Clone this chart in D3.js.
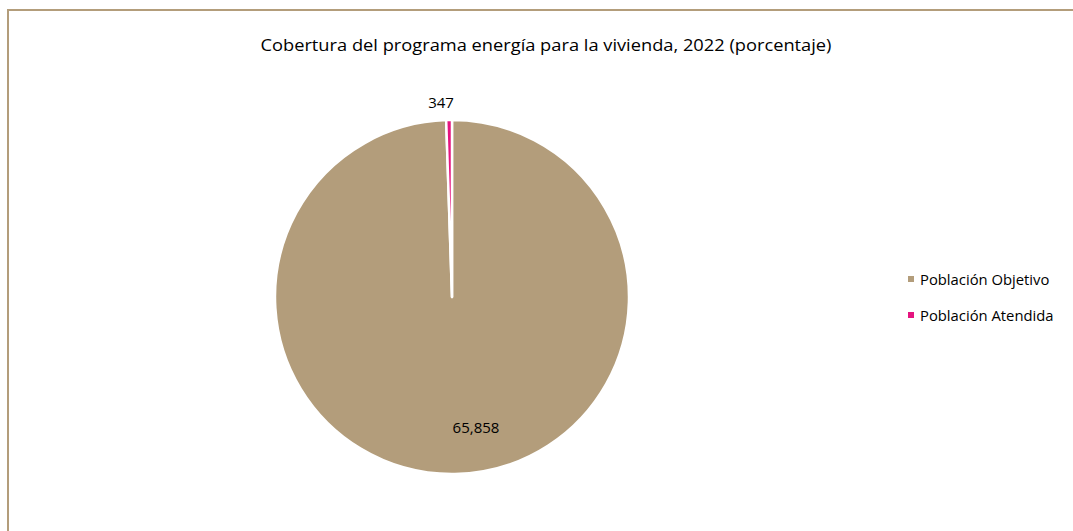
<!DOCTYPE html>
<html lang="es">
<head>
  <meta charset="utf-8">
  <title>Cobertura del programa energía para la vivienda</title>
  <script src="https://d3js.org/d3.v7.min.js"></script>
  <style>
    body { margin: 0; background: #fff; }
    svg { display: block; font-family: "Open Sans", sans-serif; }
  </style>
</head>
<body>
<svg width="1073" height="531"></svg>
<script>
// data
var categories = ["Población Objetivo", "Población Atendida"];
var values = [65858, 347];
var labels = ["65,858", "347"];
var colors = ["#b39d7b", "#e5147f"];

var svg = d3.select("svg"),
    width = +svg.attr("width"),
    height = +svg.attr("height");

// chart frame
svg.append("rect")
    .attr("x", 8).attr("y", 10)
    .attr("width", width + 10).attr("height", height + 10)
    .attr("fill", "none")
    .attr("stroke", "#b39d7b")
    .attr("stroke-width", 2);

svg.append("text")
    .attr("x", 546).attr("y", 51)
    .attr("text-anchor", "middle")
    .attr("textLength", 571)
    .attr("lengthAdjust", "spacingAndGlyphs")
    .style("font-size", "16.5px")
    .attr("fill", "#000")
    .text("Cobertura del programa energía para la vivienda, 2022 (porcentaje)");

var cx = 452, cy = 297, radius = 177;

var pie = d3.pie().sort(null).value(function(d) { return d; });
var arcs = pie(values);
var arc = d3.arc().innerRadius(0).outerRadius(radius);

var g = svg.append("g").attr("transform", "translate(" + cx + "," + cy + ")");

g.selectAll("path")
  .data(arcs)
  .enter().append("path")
    .attr("d", arc)
    .attr("fill", function(d, i) { return colors[i]; })
    .attr("stroke", "#fff")
    .attr("stroke-width", 2.5)
    .attr("stroke-linejoin", "round");

// data labels
g.append("text")
    .attr("x", 24).attr("y", 136)
    .attr("text-anchor", "middle")
    .style("font-size", "15px")
    .text(labels[0]);
g.append("text")
    .attr("x", -11).attr("y", -189)
    .attr("text-anchor", "middle")
    .style("font-size", "15px")
    .text(labels[1]);

// legend
var legend = svg.append("g").attr("transform", "translate(908,280)");
var item = legend.selectAll("g")
  .data(categories)
  .enter().append("g")
    .attr("transform", function(d, i) { return "translate(0," + i * 36 + ")"; });
item.append("rect")
    .attr("x", 0).attr("y", -4)
    .attr("width", 6).attr("height", 6)
    .attr("fill", function(d, i) { return colors[i]; });
item.append("text")
    .attr("x", 12).attr("y", 5)
    .style("font-size", "14.8px")
    .text(function(d) { return d; });
</script>
</body>
</html>
